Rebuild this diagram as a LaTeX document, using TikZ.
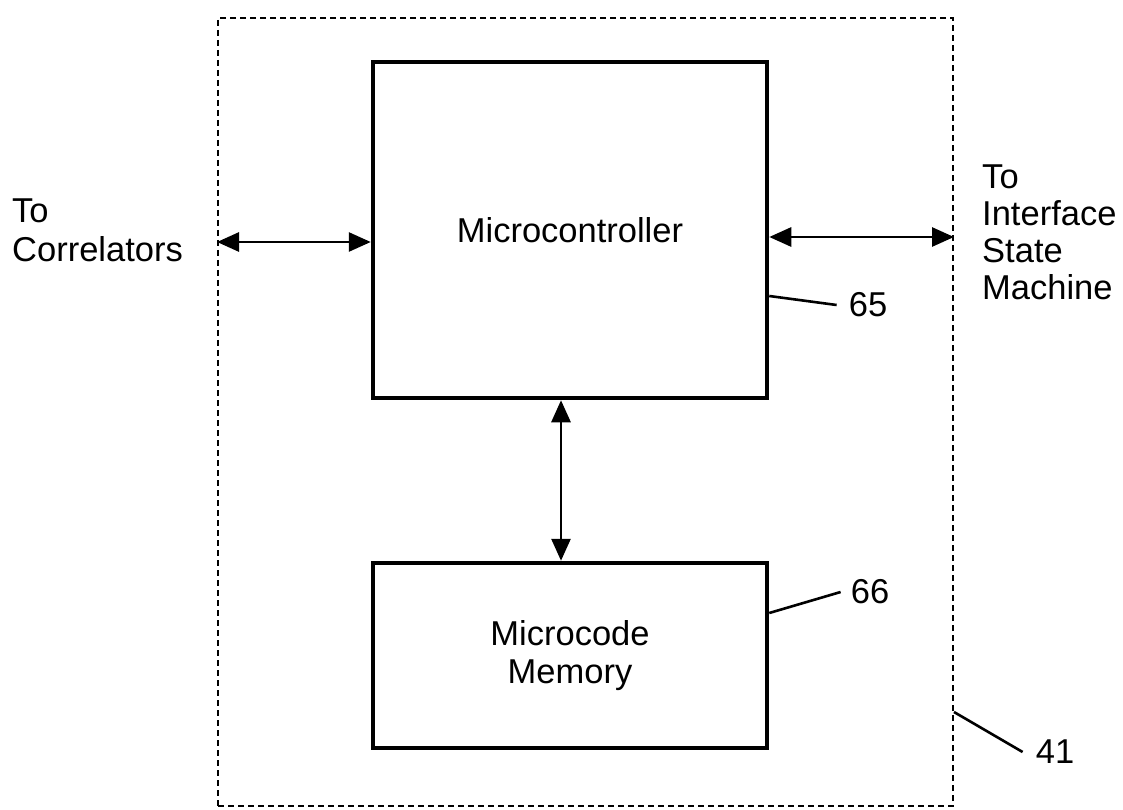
\documentclass[tikz,border=0pt]{standalone}
\usepackage{fontspec}
\setmainfont{Liberation Sans}
\usetikzlibrary{arrows.meta}
\begin{document}
\begin{tikzpicture}[x=1pt,y=-1pt,
  blk/.style={draw, line width=4.5pt, inner sep=0pt, align=center,
    font=\fontsize{34.5}{38}\selectfont},
  frame/.style={draw, line width=2pt, dash pattern=on 6pt off 4pt, inner sep=0pt},
  biarrow/.style={line width=2.8pt, {Triangle[length=22pt,width=19pt]}-{Triangle[length=22pt,width=19pt]}},
  lbl/.style={inner sep=0pt, align=left, font=\fontsize{34.5}{37}\selectfont},
  leader/.style={line width=2.6pt}]
\useasboundingbox (0,0) rectangle (1123,810);
% outer dashed frame (41)
\node[frame, minimum width=735pt, minimum height=788pt] (outer) at (585.5,412) {};
% blocks
\node[blk, minimum width=394pt, minimum height=336pt] (mc) at (570,230) {Microcontroller};
\node[blk, minimum width=394pt, minimum height=185pt] (mem) at (570,655.5) {Microcode\\Memory};
% external labels
\node[lbl, anchor=north west, font=\fontsize{34.5}{39}\selectfont] (corr) at (12,199) {To\\Correlators};
\node[lbl, anchor=north west] (ism) at (982,165) {To\\Interface\\State\\Machine};
% reference numerals
\node[lbl] (n65) at (868,305) {65};
\node[lbl] (n66) at (870,592) {66};
\node[lbl] (n41) at (1055,752) {41};
% helper coordinates
\coordinate (ly) at (0,242);
\coordinate (ry) at (0,237);
\coordinate (vx) at (561,0);
\coordinate (y65) at (0,296);
\coordinate (y66) at (0,613);
\coordinate (y41) at (0,712);
% connectors
\draw[biarrow] (outer.west |- ly) -- (mc.west |- ly);
\draw[biarrow] (mc.east |- ry) -- (outer.east |- ry);
\draw[biarrow] (mc.south -| vx) -- (mem.north -| vx);
% leaders
\draw[leader] (mc.east |- y65) -- ([xshift=-12pt]n65.west);
\draw[leader] (mem.east |- y66) -- ([xshift=-10pt]n66.west);
\draw[leader] (outer.east |- y41) -- ([xshift=-13pt]n41.west);
\end{tikzpicture}
\end{document}
